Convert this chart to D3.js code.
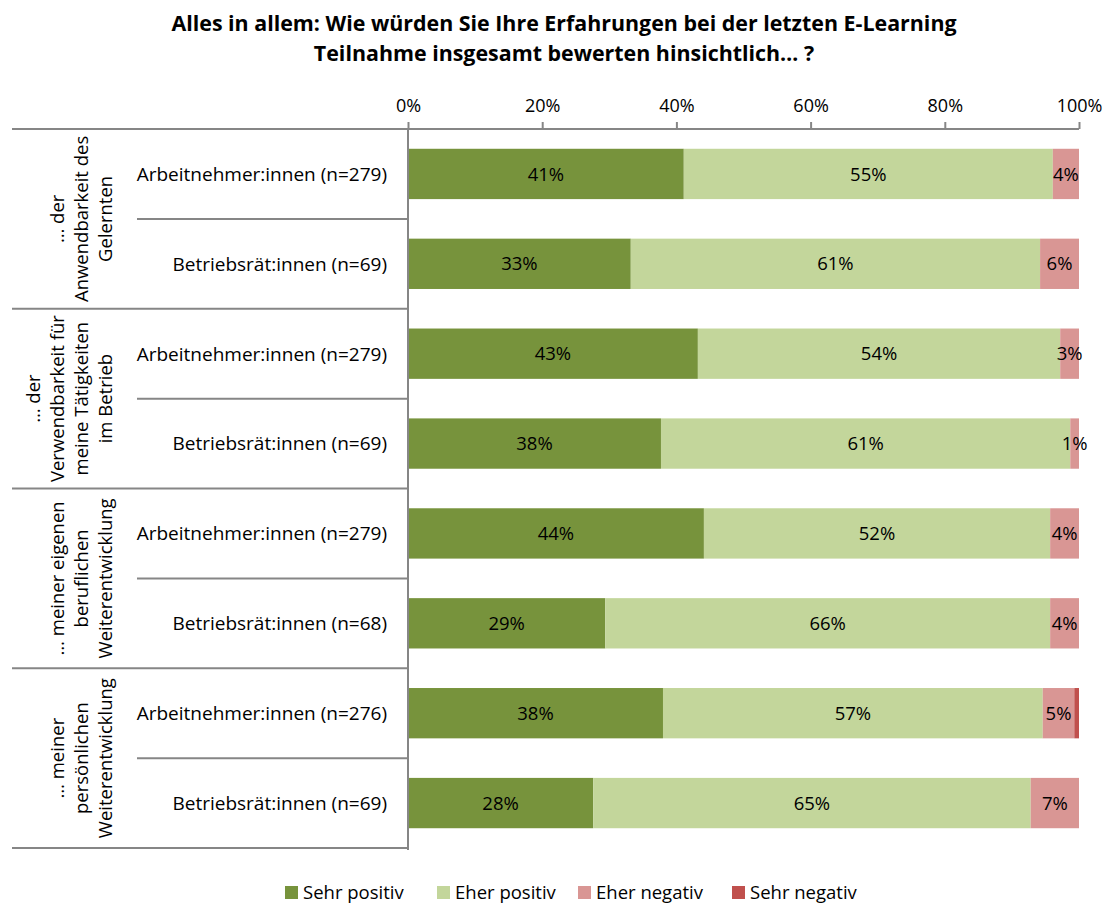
<!DOCTYPE html>
<html>
<head>
<meta charset="utf-8">
<script src="https://cdn.jsdelivr.net/npm/d3@7"></script>
<style>
  body { margin: 0; background: #fff; }
  text { font-family: "Open Sans", Lato, sans-serif; fill: #000; }
</style>
</head>
<body>
<div id="chart-area"></div>
<script>
// data
var groups = [
    ["… der", "Anwendbarkeit des", "Gelernten"],
    ["… der", "Verwendbarkeit für", "meine Tätigkeiten", "im Betrieb"],
    ["… meiner eigenen", "beruflichen", "Weiterentwicklung"],
    ["… meiner", "persönlichen", "Weiterentwicklung"]
];
var rowLabels = [
    "Arbeitnehmer:innen (n=279)", "Betriebsrät:innen (n=69)",
    "Arbeitnehmer:innen (n=279)", "Betriebsrät:innen (n=69)",
    "Arbeitnehmer:innen (n=279)", "Betriebsrät:innen (n=68)",
    "Arbeitnehmer:innen (n=276)", "Betriebsrät:innen (n=69)"
];
var seriesNames = ["Sehr positiv", "Eher positiv", "Eher negativ", "Sehr negativ"];
var sehrPositiv  = [41.1, 33.2, 43.2, 37.7, 44.1, 29.4, 38.0, 27.6];
var eherPositiv  = [55.0, 61.0, 54.0, 61.0, 51.6, 66.3, 56.6, 65.2];
var eherNegativ  = [3.9, 5.8, 2.8, 1.3, 4.3, 4.3, 4.7, 7.2];
var sehrNegativ  = [0, 0, 0, 0, 0, 0, 0.7, 0];
var xTicks = [0, 20, 40, 60, 80, 100];
var colors = ["#77933C", "#C3D69B", "#D99694", "#C0504D"];

var width = 1108, height = 906;
var plotLeft = 408, plotRight = 1079, plotTop = 129, plotBottom = 848;

var svg = d3.select("#chart-area").append("svg")
    .attr("width", width)
    .attr("height", height);

// title
svg.append("text")
    .attr("text-anchor", "middle")
    .attr("font-size", "21.4px")
    .attr("font-weight", "bold")
    .selectAll("tspan")
    .data(["Alles in allem: Wie würden Sie Ihre Erfahrungen bei der letzten E-Learning",
           "Teilnahme insgesamt bewerten hinsichtlich… ?"])
    .enter().append("tspan")
    .attr("x", 564)
    .attr("y", (d, i) => 31 + i * 30)
    .text(d => d);

var x = d3.scaleLinear().domain([0, 100]).range([plotLeft, plotRight]);
var y = d3.scaleBand()
    .domain(d3.range(rowLabels.length))
    .range([plotTop, plotBottom])
    .paddingInner(0.44)
    .paddingOuter(0.22);

var rows = rowLabels.map((label, i) => ({
    label: label,
    values: [sehrPositiv[i], eherPositiv[i], eherNegativ[i], sehrNegativ[i]]
}));

var stack = d3.stack().keys([0, 1, 2, 3]).value((d, k) => d.values[k]);
var layers = stack(rows);

var layer = svg.selectAll("g.layer").data(layers)
    .enter().append("g")
    .attr("class", "layer")
    .attr("fill", (d, i) => colors[i]);

layer.selectAll("rect")
    .data(d => d)
    .enter().append("rect")
    .attr("x", d => x(d[0]))
    .attr("y", (d, i) => y(i))
    .attr("width", d => x(d[1]) - x(d[0]))
    .attr("height", y.bandwidth());

// value labels
layer.selectAll("text")
    .data(d => d.map((v, i) => ({v: v, i: i})))
    .enter().append("text")
    .filter(d => d.v[1] - d.v[0] >= 1)
    .attr("x", d => x((d.v[0] + d.v[1]) / 2))
    .attr("y", d => y(d.i) + y.bandwidth() / 2)
    .attr("dy", "0.36em")
    .attr("text-anchor", "middle")
    .attr("font-size", "18.5px")
    .attr("fill", "#000")
    .text(d => Math.round(d.v[1] - d.v[0]) + "%");

// top axis
var topAxis = d3.axisTop(x)
    .tickValues(xTicks)
    .tickSize(7)
    .tickFormat(d => d + "%");
var xAxisGroup = svg.append("g")
    .attr("transform", "translate(0," + plotTop + ")")
    .call(topAxis);
xAxisGroup.select(".domain").attr("stroke", "#868686").attr("stroke-width", 2)
    .attr("d", "M" + plotLeft + ",0H" + plotRight);
xAxisGroup.selectAll(".tick line").attr("stroke", "#868686").attr("stroke-width", 2);
xAxisGroup.selectAll(".tick text")
    .attr("font-size", "18px")
    .attr("font-family", "'Open Sans', sans-serif")
    .attr("fill", "#000")
    .attr("y", -17);

// category axis lines
var step = y.step();
var lineG = svg.append("g").attr("stroke", "#868686").attr("stroke-width", 2);
lineG.append("line")
    .attr("x1", plotLeft).attr("x2", plotLeft)
    .attr("y1", plotTop).attr("y2", plotBottom + 2);
d3.range(rowLabels.length + 1).forEach(k => {
    var yy = plotTop + k * step;
    lineG.append("line")
        .attr("x1", k % 2 === 0 ? 12 : 137)
        .attr("x2", plotLeft)
        .attr("y1", yy).attr("y2", yy);
});

// row labels
svg.selectAll("text.row").data(rowLabels)
    .enter().append("text")
    .attr("class", "row")
    .attr("x", 387)
    .attr("y", (d, i) => y(i) + y.bandwidth() / 2)
    .attr("dy", "0.36em")
    .attr("text-anchor", "end")
    .attr("font-size", "19px")
    .text(d => d);

// group labels, rotated
groups.forEach((lines, gi) => {
    var cy = plotTop + (gi * 2 + 1) * step;
    var t = svg.append("text")
        .attr("transform", "translate(0," + cy + ") rotate(-90)")
        .attr("text-anchor", "middle")
        .attr("font-size", "18.5px");
    t.selectAll("tspan").data(lines)
        .enter().append("tspan")
        .attr("x", 0)
        .attr("y", (d, i) => 112 - (lines.length - 1 - i) * 24)
        .text(d => d);
});

// legend
var legendX = [285, 437, 578, 732];
var legend = svg.selectAll("g.legend").data(seriesNames)
    .enter().append("g")
    .attr("class", "legend")
    .attr("transform", (d, i) => "translate(" + legendX[i] + ",886)");
legend.append("rect")
    .attr("width", 13).attr("height", 13)
    .attr("fill", (d, i) => colors[i]);
legend.append("text")
    .attr("x", 18).attr("y", 13)
    .attr("font-size", "18.5px")
    .text(d => d);
</script>
</body>
</html>
